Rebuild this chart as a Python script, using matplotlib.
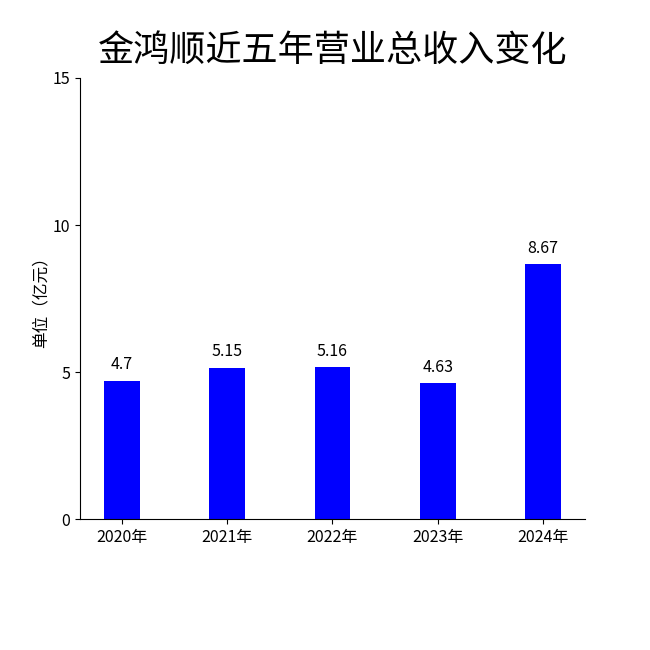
import matplotlib
matplotlib.use('Agg')
import matplotlib.pyplot as plt

plt.rcParams['font.family'] = ['Noto Sans CJK SC', 'DejaVu Sans']

years = ['2020年', '2021年', '2022年', '2023年', '2024年']
revenue = [4.7, 5.15, 5.16, 4.63, 8.67]
labels = ['4.7', '5.15', '5.16', '4.63', '8.67']

fig = plt.figure(figsize=(6.5, 6.5), dpi=100)
ax = fig.add_axes([0.123, 0.2015, 0.777, 0.6785])

x = range(len(years))
bars = ax.bar(x, revenue, width=0.34, color='#0000FF')
for b, t in zip(bars, labels):
    ax.text(b.get_x() + b.get_width() / 2, b.get_height() + 0.25, t,
            ha='center', va='bottom', fontsize=11.5)

ax.set_xticks(list(x))
ax.set_xticklabels(years, fontsize=11.5)
ax.set_xlim(-0.4, 4.4)
ax.set_ylim(0, 15)
ax.set_yticks([0, 5, 10, 15])
ax.tick_params(axis='y', labelsize=11.5)
ax.set_ylabel('单位（亿元）', fontsize=12, labelpad=2)
ax.spines['top'].set_visible(False)
ax.spines['right'].set_visible(False)

fig.text(0.512, 0.922, '金鸿顺近五年营业总收入变化', ha='center', va='center', fontsize=26)

fig.savefig('out.png', dpi=100)
